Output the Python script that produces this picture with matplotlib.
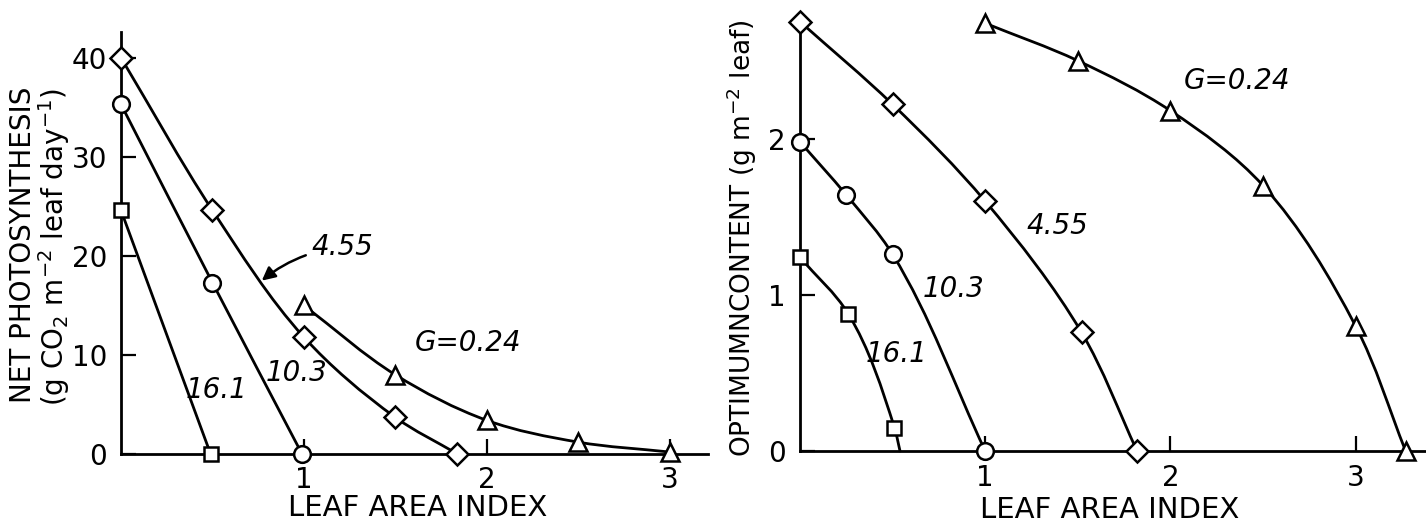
import numpy as np
import matplotlib
matplotlib.use("Agg")
import matplotlib.pyplot as plt
from matplotlib.path import Path
from matplotlib.patches import PathPatch
from matplotlib.transforms import IdentityTransform

# ---------------- data ----------------
# Left panel: net photosynthesis vs leaf area index
L_diam_x = [0.0, 0.5, 1.0, 1.5, 1.84]
L_diam_y = [40.0, 24.6, 11.8, 3.7, 0.0]
L_circ_x = [0.0, 0.5, 0.99]
L_circ_y = [35.3, 17.3, 0.0]
L_sq_x = [0.0, 0.49]
L_sq_y = [24.6, 0.0]
L_tri_x = [1.0, 1.5, 2.0, 2.5, 3.0]
L_tri_y = [15.0, 8.0, 3.4, 1.2, 0.2]

# Right panel: optimum N content vs leaf area index
R_diam_x = [0.0, 0.5, 1.0, 1.52, 1.82]
R_diam_y = [2.75, 2.22, 1.60, 0.76, 0.0]
R_circ_x = [0.0, 0.25, 0.5, 1.0]
R_circ_y = [1.98, 1.64, 1.26, 0.0]
R_sq_x = [0.0, 0.26, 0.51]
R_sq_y = [1.24, 0.88, 0.15]
R_sq_end = (0.54, 0.0)
R_tri_x = [1.0, 1.5, 2.0, 2.5, 3.0, 3.27]
R_tri_y = [2.74, 2.50, 2.18, 1.70, 0.80, 0.0]

x_ticks = [1, 2, 3]
L_yticks = [0, 10, 20, 30, 40]
R_yticks = [0, 1, 2]
labels_G = ["16.1", "10.3", "4.55", "G=0.24"]

LW = 2.0
FS_TICK = 20
FS_LAB = 21


def smooth(ax, xs, ys, lw=LW):
    """Smooth curve through the points (tangent-based cubic Bezier in display space)."""
    pts = ax.transData.transform(np.column_stack([xs, ys]).astype(float))
    n = len(pts)
    verts = [pts[0]]
    codes = [Path.MOVETO]
    tang = []
    for i in range(n):
        if i == 0:
            d = pts[1] - pts[0]
        elif i == n - 1:
            d = pts[-1] - pts[-2]
        else:
            a = pts[i] - pts[i - 1]
            b = pts[i + 1] - pts[i]
            d = a / np.linalg.norm(a) + b / np.linalg.norm(b)
        tang.append(d / np.linalg.norm(d))
    for i in range(n - 1):
        p1, p2 = pts[i], pts[i + 1]
        L = np.linalg.norm(p2 - p1) / 3.0
        verts += [p1 + tang[i] * L, p2 - tang[i + 1] * L, p2]
        codes += [Path.CURVE4] * 3
    patch = PathPatch(Path(verts, codes), fill=False, lw=lw, ec="black",
                      transform=IdentityTransform(), clip_on=False, zorder=2,
                      capstyle="round", joinstyle="round")
    ax.add_artist(patch)


def markers(ax, xs, ys, m, ms):
    ax.plot(xs, ys, linestyle="none", marker=m, ms=ms, mfc="white",
            mec="black", mew=1.8, clip_on=False, zorder=3)


def style(ax, xlim, ylim, yticks):
    ax.set_xlim(*xlim)
    ax.set_ylim(*ylim)
    for s in ["top", "right"]:
        ax.spines[s].set_visible(False)
    for s in ["left", "bottom"]:
        ax.spines[s].set_linewidth(LW)
    ax.set_xticks(x_ticks)
    ax.set_yticks(yticks)
    ax.tick_params(direction="in", length=11, width=1.6, labelsize=FS_TICK,
                   pad=10)
    ax.tick_params(axis="x", pad=9)


fig = plt.figure(figsize=(14.26, 5.31), dpi=100)

# ---------------- left panel ----------------
axL = fig.add_axes([121 / 1426, 1 - 454 / 531, 587 / 1426, 422 / 531])
style(axL, (0, 3.21), (0, 42.6), L_yticks)
smooth(axL, L_diam_x, L_diam_y)
smooth(axL, L_circ_x, L_circ_y)
smooth(axL, L_sq_x, L_sq_y)
smooth(axL, L_tri_x, L_tri_y)
markers(axL, L_diam_x, L_diam_y, "D", 11.5)
markers(axL, L_circ_x, L_circ_y, "o", 12)
markers(axL, L_sq_x, L_sq_y, "s", 10.5)
markers(axL, L_tri_x, L_tri_y, "^", 12.5)

axL.text(0.52, 6.5, labels_G[0], fontsize=FS_TICK, style="italic",
         ha="center", va="center")
axL.text(0.96, 8.2, labels_G[1], fontsize=FS_TICK, style="italic",
         ha="center", va="center")
axL.annotate(labels_G[2], xy=(0.77, 17.5), xytext=(1.04, 20.9),
             fontsize=FS_TICK, style="italic", ha="left", va="center",
             arrowprops=dict(arrowstyle="-|>", lw=1.8, color="black",
                             connectionstyle="arc3,rad=0.15",
                             mutation_scale=20, shrinkA=2, shrinkB=0))
axL.text(1.9, 11.2, labels_G[3], fontsize=FS_TICK, style="italic",
         ha="center", va="center")

fig.text(418 / 1426, 1 - 508 / 531, "LEAF AREA INDEX",
         fontsize=FS_LAB, ha="center", va="center")
fig.text(23 / 1426, 1 - 245 / 531, "NET PHOTOSYNTHESIS", rotation=90,
         fontsize=20, ha="center", va="center")
fig.text(54 / 1426, 1 - 247 / 531,
         "(g CO$_2$ m$^{-2}$ leaf day$^{-1}$)", rotation=90,
         fontsize=20, ha="center", va="center")

# ---------------- right panel ----------------
axR = fig.add_axes([800 / 1426, 1 - 451 / 531, 626 / 1426, 434 / 531])
style(axR, (0, 3.38), (0, 2.78), R_yticks)
smooth(axR, R_diam_x, R_diam_y)
smooth(axR, R_circ_x, R_circ_y)
smooth(axR, R_sq_x + [R_sq_end[0]], R_sq_y + [R_sq_end[1]])
smooth(axR, R_tri_x, R_tri_y)
markers(axR, R_diam_x, R_diam_y, "D", 11.5)
markers(axR, R_circ_x, R_circ_y, "o", 12)
markers(axR, R_sq_x, R_sq_y, "s", 10.5)
markers(axR, R_tri_x, R_tri_y, "^", 12.5)

axR.text(0.52, 0.62, labels_G[0], fontsize=FS_TICK, style="italic",
         ha="center", va="center")
axR.text(0.83, 1.04, labels_G[1], fontsize=FS_TICK, style="italic",
         ha="center", va="center")
axR.text(1.39, 1.44, labels_G[2], fontsize=FS_TICK, style="italic",
         ha="center", va="center")
axR.text(2.36, 2.37, labels_G[3], fontsize=FS_TICK, style="italic",
         ha="center", va="center")

fig.text(1110 / 1426, 1 - 510 / 531, "LEAF AREA INDEX",
         fontsize=FS_LAB, ha="center", va="center")
fig.text(742 / 1426, 1 - 238 / 531, "OPTIMUMNCONTENT (g m$^{-2}$ leaf)",
         rotation=90, fontsize=19, ha="center", va="center")

fig.savefig("out.png", dpi=100)
